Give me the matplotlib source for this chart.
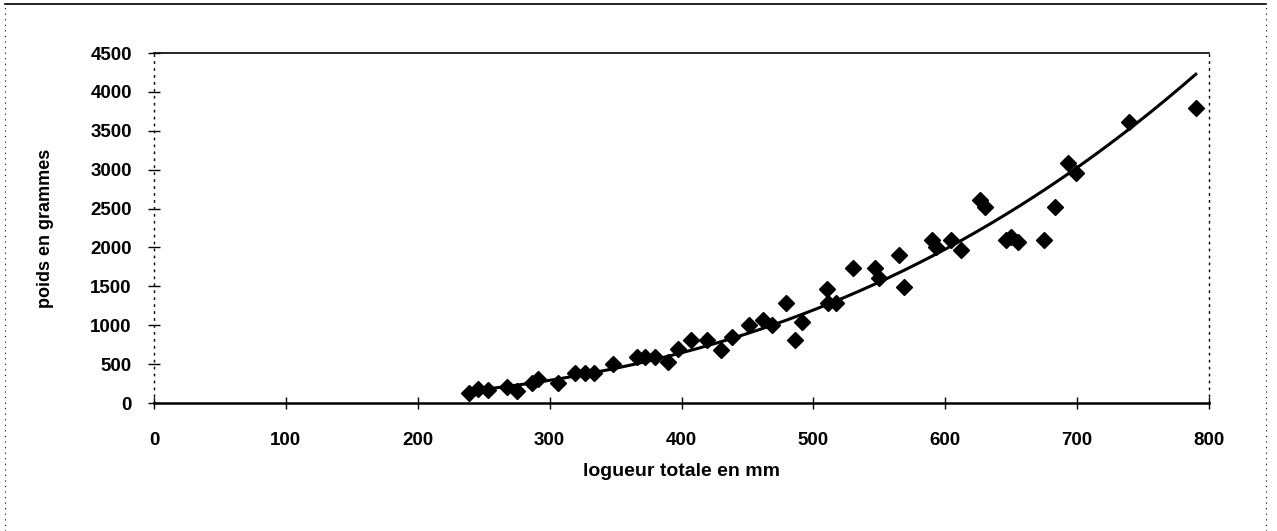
import numpy as np
import matplotlib
matplotlib.use("Agg")
import matplotlib.pyplot as plt
from matplotlib.lines import Line2D

# data
longueur = [239, 246, 253, 268, 275, 287, 291, 306, 319, 327, 334, 348,
            366, 372, 380, 390, 397, 407, 419, 430, 438, 451, 462, 469,
            479, 486, 491, 510, 511, 517, 530, 547, 550, 565, 569, 590,
            593, 604, 612, 626, 630, 646, 650, 655, 675, 683, 693, 699,
            739, 790]
poids = [132, 176, 167, 210, 158, 260, 310, 253, 381, 381, 381, 501,
         595, 590, 587, 531, 690, 810, 810, 681, 852, 1003, 1067, 1003,
         1281, 810, 1045, 1460, 1281, 1281, 1731, 1731, 1603, 1902, 1495, 2095,
         2010, 2095, 1967, 2609, 2523, 2095, 2138, 2074, 2095, 2515, 3089, 2952,
         3616, 3788]
x_ticks = [0, 100, 200, 300, 400, 500, 600, 700, 800]
y_ticks = [0, 500, 1000, 1500, 2000, 2500, 3000, 3500, 4000, 4500]
x_label = "logueur totale en mm"
y_label = "poids en grammes"

plt.rcParams['font.family'] = ['Liberation Sans', 'DejaVu Sans']

fig = plt.figure(figsize=(12.77, 5.31), dpi=100)
W, H = 1277, 531
ax = fig.add_axes([154 / W, 1 - 403 / H, (1209 - 154) / W, (403 - 53) / H])

x = np.array(longueur, float)
y = np.array(poids, float)
# power trendline (fit in log space)
b, lna = np.polyfit(np.log(x), np.log(y), 1)
xs = np.linspace(x.min(), x.max(), 200)
ax.plot(xs, np.exp(lna) * xs ** b, color='black', lw=2.2, zorder=2)
ax.plot(x, y, linestyle='none', marker='D', markersize=8.5, color='black', zorder=3)

ax.set_xlim(0, 800)
ax.set_ylim(0, 4500)
ax.set_xticks(x_ticks)
ax.set_yticks(y_ticks)
ax.set_xticklabels([str(v) for v in x_ticks], fontsize=13.5, fontweight='bold')
ax.set_yticklabels([str(v) for v in y_ticks], fontsize=13.5, fontweight='bold')
ax.tick_params(axis='x', direction='inout', length=8, width=1, pad=17)
ax.tick_params(axis='y', direction='inout', length=8, width=1, pad=12)

ax.spines['top'].set_linewidth(1.2)
ax.spines['right'].set_linestyle((0, (1, 4)))
ax.spines['right'].set_linewidth(1)
ax.spines['left'].set_linestyle((0, (1, 4)))
ax.spines['left'].set_linewidth(1)
ax.spines['bottom'].set_linewidth(1.8)

ax.set_xlabel(x_label, fontsize=14, fontweight='bold')
ax.set_ylabel(y_label, fontsize=13, fontweight='bold')
ax.xaxis.set_label_coords(0.5, -0.17)
ax.yaxis.set_label_coords(-0.095, 0.5)

# outer frame of the chart
fig.add_artist(Line2D([5 / W, 1266 / W], [1 - 4 / H, 1 - 4 / H], color='black', lw=1.2))
fig.add_artist(Line2D([5 / W, 5 / W], [0, 1 - 4 / H], color='black', lw=0.8, linestyle=(0, (1, 4))))
fig.add_artist(Line2D([1266 / W, 1266 / W], [0, 1 - 4 / H], color='black', lw=0.8, linestyle=(0, (1, 4))))

fig.savefig("out.png", dpi=100)
